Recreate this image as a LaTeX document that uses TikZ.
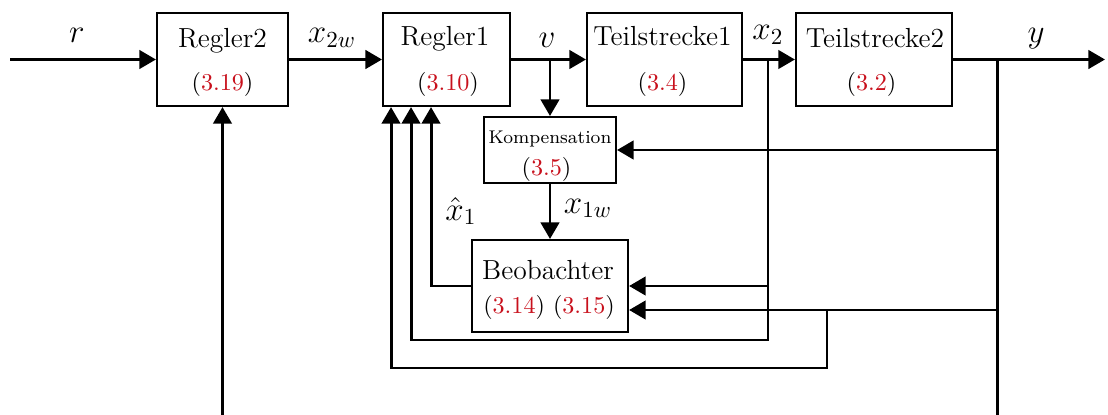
\documentclass[tikz,border=0pt]{standalone}
\usetikzlibrary{arrows.meta,calc}
\definecolor{eqred}{RGB}{200,16,28}
\newcommand{\refnum}[1]{\textcolor{eqred}{#1}}
\begin{document}
\begin{tikzpicture}[x=0.435pt,y=-0.435pt,
  blk/.style={draw, line width=0.9pt, inner sep=0pt},
  sig/.style={line width=1.3pt, -{Triangle[length=7.2pt,width=8pt]}},
  wire/.style={line width=1.3pt},
  blkname/.style={font=\large, anchor=base, inner sep=0pt},
  eq/.style={font=\fontsize{10.5}{12}\selectfont, anchor=base, inner sep=0pt},
  lbl/.style={font=\Large, anchor=base, inner sep=0pt}]
\useasboundingbox (0,0) rectangle (1108,415);

% blocks
\node[blk, minimum width=57pt,   minimum height=40.5pt] (r2)   at (222.5,59.5) {};
\node[blk, minimum width=55.2pt, minimum height=40.5pt] (r1)   at (446.5,59.5) {};
\node[blk, minimum width=67.4pt, minimum height=40.5pt] (t1)   at (664.5,59.5) {};
\node[blk, minimum width=67.9pt, minimum height=40.5pt] (t2)   at (874,59.5) {};
\node[blk, minimum width=57.4pt, minimum height=28.7pt] (komp) at (550,150) {};
\node[blk, minimum width=67.9pt, minimum height=40pt]   (beob) at (550,286) {};

% block texts
\node[blkname] (r2a) at (222.5,48) {Regler2};
\node[eq]      (r2b) at (222.5,90) {(\refnum{3.19})};
\node[blkname] (r1a) at (445,46) {Regler1};
\node[eq]      (r1b) at (448,90) {(\refnum{3.10})};
\node[blkname] (t1a) at (662.5,45) {Teilstrecke1};
\node[eq]      (t1b) at (662.5,90) {(\refnum{3.4})};
\node[blkname] (t2a) at (875,48) {Teilstrecke2};
\node[eq]      (t2b) at (871.5,90) {(\refnum{3.2})};
\node[blkname, font=\footnotesize] (kpa) at (550,143) {Kompensation};
\node[eq]      (kpb) at (546.5,175) {(\refnum{3.5})};
\node[blkname] (bba) at (548,279) {Beobachter};
\node[eq]      (bbb) at (549,313) {(\refnum{3.14}) (\refnum{3.15})};

% signal labels
\node[lbl] (lr)   at (77,43)   {$r$};
\node[lbl] (lx2w) at (332,43)  {$x_{2w}$};
\node[lbl] (lv)   at (547,47)  {$v$};
\node[lbl] (lx2)  at (768,40)  {$x_2$};
\node[lbl] (ly)   at (1036,42) {$y$};
\node[lbl] (lx1h) at (461,220) {$\hat{x}_1$};
\node[lbl] (lx1w) at (588,213) {$x_{1w}$};

% coordinates of branch points and free ends
\coordinate (in)   at (10,59.5);
\coordinate (out)  at (1105,59.5);
\coordinate (vb)   at (550,59.5);
\coordinate (x2b)  at (768,59.5);
\coordinate (x2c)  at (768,340);
\coordinate (yb)   at (997,59.5);
\coordinate (ybot) at (997,425);
\coordinate (yl)   at (997,310);
\coordinate (yd)   at (827,310);
\coordinate (yc)   at (827,368);
\coordinate (r2in) at (222.5,425);

% forward path
\draw[sig] (in) -- (r2.west);
\draw[sig] (r2.east) -- (r1.west);
\draw[sig] (r1.east) -- (t1.west);
\draw[sig] (t1.east) -- (t2.west);
\draw[sig] (t2.east) -- (out);

% compensation and observer
\draw[sig] (vb) -- (komp.north);
\draw[sig] (komp.south) -- (beob.north);
\draw[sig] (beob.west) -| ($(r1.south west)+(49,0)$);

% x2 feedback
\draw[sig] (x2b) -- (x2c) -| ($(r1.south west)+(29,0)$);
\draw[sig] (x2b |- beob.east) -- (beob.east);

% y feedback
\draw[wire] (yb) -- (ybot);
\draw[sig] (yb |- komp.east) -- (komp.east);
\draw[sig] (yl) -- (beob.east |- yl);
\draw[sig] (yd) -- (yc) -| ($(r1.south west)+(9,0)$);
\draw[sig] (r2in) -- (r2.south);
\end{tikzpicture}
\end{document}
